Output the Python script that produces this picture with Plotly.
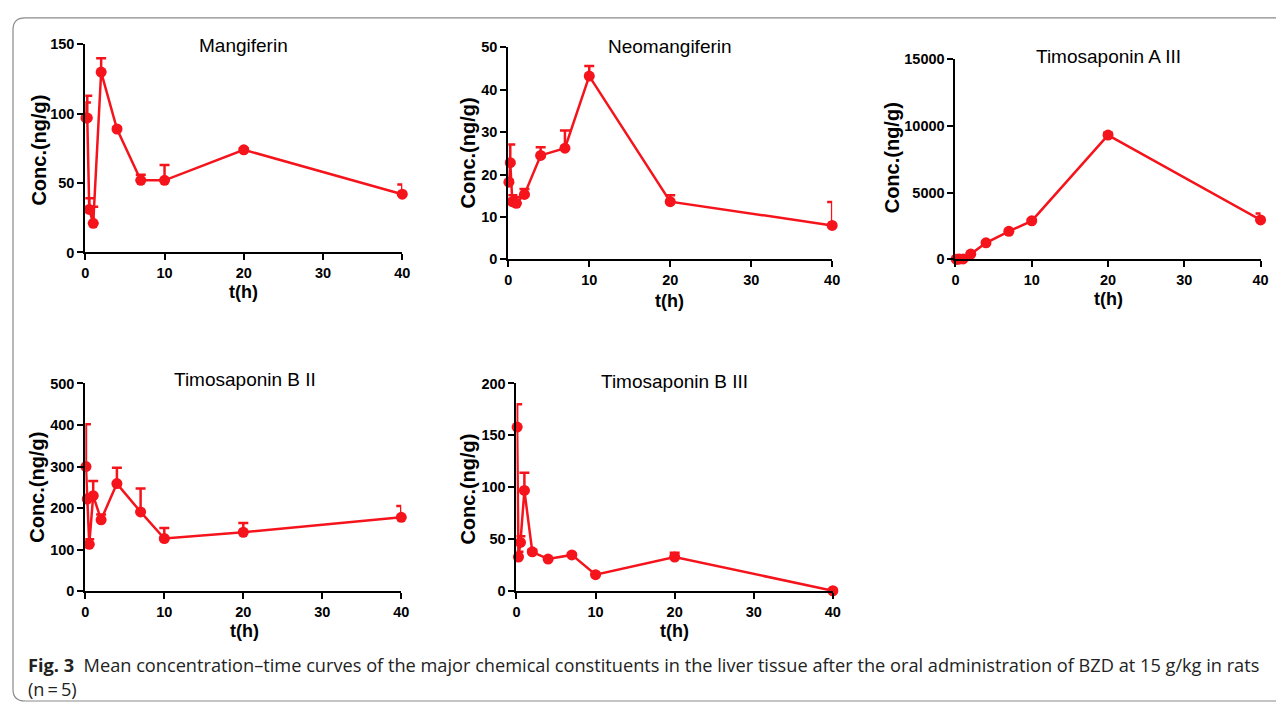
import plotly.graph_objects as go

# The page body keeps its default 8px margin, so the figure is 16px smaller
# than the window and every reference pixel is shifted by 8px.
OFF = 8
W, H = 1284 - 2 * OFF, 718 - 2 * OFF

# ---- data ----
time_h = [0.083, 0.25, 0.5, 1, 2, 4, 7, 10, 20, 40]

mangiferin = [97, 97, 31, 21, 130, 89, 52, 52, 74, 42]
mangiferin_sd = [11, 16, 8, 12, 10, 1, 4, 11, 1, 7]

neomangiferin = [18.2, 22.8, 13.6, 13.2, 15.3, 24.5, 26.2, 43.2, 13.6, 8.0]
neomangiferin_sd = [0.5, 4.3, 1.5, 1.5, 1.3, 1.9, 4.2, 2.4, 1.5, 5.5]

timosaponin_a3 = [10, 15, 20, 30, 390, 1240, 2100, 2880, 9300, 2950]
timosaponin_a3_sd = [5, 5, 5, 10, 50, 80, 100, 100, 150, 490]

timosaponin_b2 = [300, 222, 113, 230, 172, 259, 191, 127, 142, 178]
timosaponin_b2_sd = [102, 10, 12, 35, 13, 38, 56, 25, 22, 27]

timosaponin_b3 = [158, 33, 47, 97, 38, 31, 35, 16, 33, 0.5]
timosaponin_b3_sd = [22, 5, 6, 17, 2, 1, 1, 1, 4, 0]

panel_titles = ["Mangiferin", "Neomangiferin", "Timosaponin A III",
                "Timosaponin B II", "Timosaponin B III"]
y_ranges = [150, 50, 15000, 500, 200]
y_dticks = [50, 10, 5000, 100, 50]
x_max = 40
x_dtick = 10

series = [(mangiferin, mangiferin_sd), (neomangiferin, neomangiferin_sd),
          (timosaponin_a3, timosaponin_a3_sd), (timosaponin_b2, timosaponin_b2_sd),
          (timosaponin_b3, timosaponin_b3_sd)]

# ---- layout geometry (reference pixels) ----
boxes = [(82, 402, 250, 37), (509, 836, 257, 40), (960.5, 1268.5, 257, 52),
         (82, 401, 596.7, 384), (517.3, 836.7, 596.7, 384)]
title_pos = [(242, 38), (672, 39), (1115, 49), (243, 380), (677, 382)]
xlabel_pos = [(242, 290), (672, 300), (1115, 298), (243, 637), (677, 637)]
ylabel_pos = [(35, 145), (468, 148), (896, 153), (33, 490), (468, 492)]

RED = "#f5141c"
FONT = "Liberation Sans"


def px(x):
    return (x - OFF) / W


def py(y):
    return 1 - (y - OFF) / H


fig = go.Figure()
layout = dict(width=W, height=H, margin=dict(l=0, r=0, t=0, b=0),
              paper_bgcolor="white", plot_bgcolor="white", showlegend=False)

axis_common = dict(showline=True, linewidth=2, linecolor="black", ticks="outside",
                   ticklen=6, tickwidth=2, tickcolor="black", showgrid=False,
                   zeroline=False, fixedrange=True, tickformat="d",
                   tickfont=dict(family=FONT, size=14.5, color="black", weight="bold"))

annotations = []
for i, ((vals, sd), box) in enumerate(zip(series, boxes)):
    n = "" if i == 0 else str(i + 1)
    xl, xr, yb, yt = box
    layout["xaxis" + n] = dict(axis_common, domain=[px(xl), px(xr)], range=[0, x_max],
                               dtick=x_dtick, tick0=0, anchor="y" + n)
    layout["yaxis" + n] = dict(axis_common, domain=[py(yb), py(yt)],
                               range=[0, y_ranges[i]], dtick=y_dticks[i], tick0=0,
                               anchor="x" + n)
    fig.add_trace(go.Scatter(
        x=time_h, y=vals, xaxis="x" + n, yaxis="y" + n, mode="lines+markers",
        line=dict(color=RED, width=2.5),
        marker=dict(color=RED, size=11),
        error_y=dict(type="data", array=sd, arrayminus=[0] * len(sd),
                     symmetric=False, color=RED, thickness=2.5, width=5),
        cliponaxis=False))
    tx, ty = title_pos[i]
    annotations.append(dict(text=panel_titles[i], x=px(tx), y=py(ty), xref="paper",
                            yref="paper", showarrow=False, xanchor="center",
                            yanchor="middle",
                            font=dict(family=FONT, size=19, color="black")))
    lx, ly = xlabel_pos[i]
    annotations.append(dict(text="<b>t(h)</b>", x=px(lx), y=py(ly), xref="paper",
                            yref="paper", showarrow=False, xanchor="center",
                            yanchor="middle",
                            font=dict(family=FONT, size=18, color="black")))
    yx, yy = ylabel_pos[i]
    annotations.append(dict(text="<b>Conc.(ng/g)</b>", x=px(yx), y=py(yy),
                            xref="paper", yref="paper", showarrow=False,
                            textangle=-90, xanchor="center", yanchor="middle",
                            font=dict(family=FONT, size=20, color="black")))

caption1 = ("<b>Fig. 3</b>  Mean concentration\u2013time curves of the major chemical "
            "constituents in the liver tissue after the oral administration of BZD at "
            "15 g/kg in rats")
caption2 = "(n\u2009=\u20095)"
for text, y in [(caption1, 672), (caption2, 697)]:
    annotations.append(dict(text=text, x=px(22), y=py(y), xref="paper", yref="paper",
                            showarrow=False, xanchor="left", yanchor="middle",
                            font=dict(family="Open Sans", size=18.2, color="#222222")))

layout["annotations"] = annotations

# rounded frame around the figure
r = 12
left, top, bottom, right = 9, 10, 709, 1310
pts = (f"M {px(right)},{py(top)} L {px(left + r)},{py(top)} "
       f"Q {px(left)},{py(top)} {px(left)},{py(top + r)} "
       f"L {px(left)},{py(bottom - r)} Q {px(left)},{py(bottom)} {px(left + r)},{py(bottom)} "
       f"L {px(right)},{py(bottom)}")
layout["shapes"] = [dict(type="path", path=pts, xref="paper", yref="paper",
                         line=dict(color="#8a8a8a", width=1.2))]

fig.update_layout(**layout)
fig.write_html("out.html", config={"displayModeBar": False})
